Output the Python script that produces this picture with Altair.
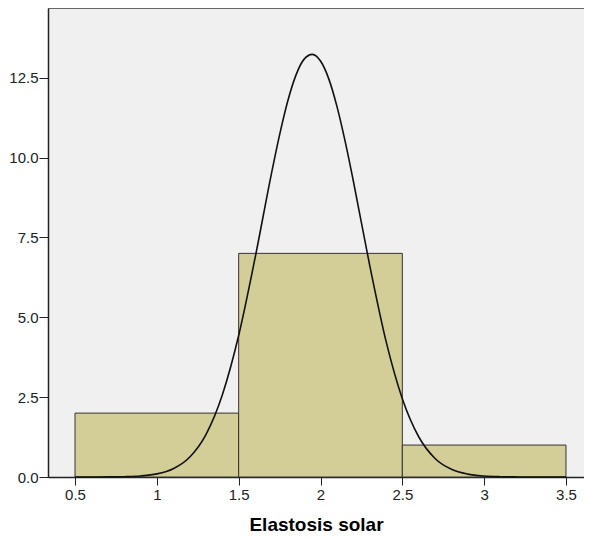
import altair as alt
import pandas as pd

# Histogram bins (Elastosis solar)
bin_start = [0.5, 1.5, 2.5]
bin_end = [1.5, 2.5, 3.5]
counts = [2, 7, 1]

# Normal curve, points
curve_x = [0.5, 0.6, 0.7, 0.8, 0.9, 1.0, 1.1, 1.2, 1.3, 1.4, 1.5, 1.6, 1.7, 1.75,
           1.8, 1.85, 1.9, 1.95, 2.0, 2.05, 2.1, 2.15, 2.2, 2.3, 2.4, 2.5, 2.6,
           2.7, 2.8, 2.9, 3.0, 3.1, 3.2, 3.3, 3.4, 3.5]
curve_y = [0.0, 0.0006, 0.0026, 0.0097, 0.032, 0.097, 0.26, 0.62, 1.33, 2.57, 4.43,
           6.85, 9.49, 10.71, 11.77, 12.58, 13.08, 13.23, 13.02, 12.47, 11.61, 10.52,
           9.28, 6.64, 4.26, 2.45, 1.26, 0.58, 0.24, 0.089, 0.029, 0.0087, 0.0023,
           0.0006, 0.0, 0.0]

x_ticks = [0.5, 1, 1.5, 2, 2.5, 3, 3.5]
y_ticks = [0.0, 2.5, 5.0, 7.5, 10.0, 12.5]

bars_df = pd.DataFrame({"start": bin_start, "end": bin_end, "count": counts})
curve_df = pd.DataFrame({"x": curve_x, "y": curve_y})

xscale = alt.Scale(domain=[0.335, 3.61], nice=False, zero=False)
yscale = alt.Scale(domain=[0, 14.68], nice=False)

xaxis = alt.Axis(values=x_ticks, labelExpr="format(datum.value, '~g')", grid=False,
                 title="Elastosis solar", titleFontSize=19, titleFontWeight="bold",
                 titleFont="Liberation Sans", titleColor="#000", titlePadding=13,
                 labelFont="Liberation Sans", labelFontSize=15, labelColor="#222",
                 tickSize=8, tickColor="#222", domainColor="#222", domainWidth=1.5,
                 labelPadding=2)
yaxis = alt.Axis(values=y_ticks, format=".1f", grid=False, title=None,
                 labelFont="Liberation Sans", labelFontSize=15, labelColor="#222",
                 tickSize=9, tickColor="#222", domainColor="#222", domainWidth=1.5,
                 labelPadding=1)

bars = alt.Chart(bars_df).mark_rect(fill="#D3CE98", stroke="#333", strokeWidth=1).encode(
    x=alt.X("start:Q", scale=xscale, axis=xaxis),
    x2="end:Q",
    y=alt.Y("count:Q", scale=yscale, axis=yaxis),
    y2=alt.datum(0),
)

curve = alt.Chart(curve_df).mark_line(color="#111", strokeWidth=1.6, interpolate="monotone").encode(
    x=alt.X("x:Q", scale=xscale),
    y=alt.Y("y:Q", scale=yscale),
)

chart = alt.layer(bars, curve).properties(
    width=536, height=469,
    autosize=alt.AutoSizeParams(type="none"),
    padding={"left": 40, "top": 0, "right": 0, "bottom": 62},
).configure_view(
    fill="#F0F0F0", stroke="#666", strokeWidth=1
)

chart.save("out.html", embed_options={"renderer": "svg", "actions": False})
